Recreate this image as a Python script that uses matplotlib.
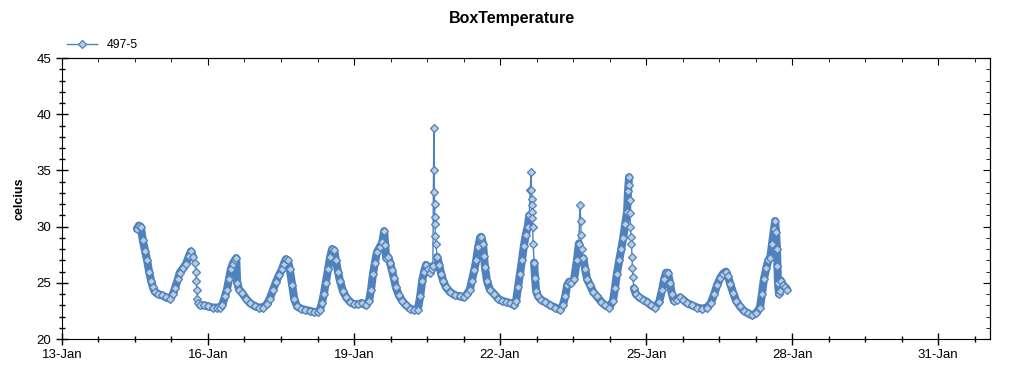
import datetime as dt
import numpy as np
import matplotlib
matplotlib.use('Agg')
import matplotlib.pyplot as plt
import matplotlib.dates as mdates
import matplotlib.ticker as ticker

plt.rcParams['font.family'] = ['Liberation Sans', 'DejaVu Sans']

# readings for sensor 497-5: day of January (fractional) and temperature
jan_day = [
    14.54, 14.58, 14.62, 14.66, 14.71, 14.75, 14.79, 14.83, 14.87, 14.91,
    14.97, 15.05, 15.14, 15.22, 15.28, 15.32, 15.38, 15.42, 15.49, 15.55,
    15.61, 15.65, 15.69, 15.73, 15.75, 15.76, 15.77, 15.78, 15.79, 15.84,
    15.92, 16.00, 16.10, 16.18, 16.25, 16.29, 16.35, 16.39, 16.43, 16.47,
    16.51, 16.55, 16.58, 16.60, 16.64, 16.70, 16.78, 16.86, 16.97, 17.05,
    17.13, 17.21, 17.27, 17.34, 17.40, 17.46, 17.52, 17.56, 17.60, 17.64,
    17.68, 17.73, 17.77, 17.83, 17.91, 17.99, 18.10, 18.18, 18.26, 18.30,
    18.34, 18.38, 18.42, 18.47, 18.51, 18.55, 18.59, 18.63, 18.67, 18.71,
    18.77, 18.84, 18.92, 19.00, 19.08, 19.16, 19.25, 19.31, 19.35, 19.39,
    19.43, 19.47, 19.53, 19.58, 19.62, 19.64, 19.66, 19.70, 19.74, 19.78,
    19.82, 19.86, 19.92, 19.99, 20.07, 20.15, 20.23, 20.31, 20.36, 20.40,
    20.44, 20.48, 20.52, 20.56, 20.60, 20.62, 20.64, 20.645, 20.65, 20.655,
    20.66, 20.665, 20.67, 20.68, 20.71, 20.75, 20.79, 20.83, 20.89, 20.97,
    21.07, 21.18, 21.26, 21.32, 21.38, 21.42, 21.47, 21.51, 21.55, 21.59,
    21.61, 21.65, 21.67, 21.69, 21.73, 21.79, 21.88, 21.96, 22.04, 22.12,
    22.21, 22.29, 22.33, 22.37, 22.41, 22.45, 22.49, 22.53, 22.57, 22.60,
    22.62, 22.64, 22.645, 22.65, 22.655, 22.66, 22.665, 22.67, 22.68, 22.70,
    22.72, 22.74, 22.78, 22.84, 22.92, 23.03, 23.13, 23.23, 23.29, 23.34,
    23.38, 23.42, 23.46, 23.52, 23.58, 23.62, 23.64, 23.66, 23.665, 23.68,
    23.71, 23.75, 23.79, 23.85, 23.91, 23.99, 24.08, 24.16, 24.24, 24.32,
    24.36, 24.40, 24.45, 24.49, 24.53, 24.57, 24.61, 24.63, 24.65, 24.655,
    24.66, 24.67, 24.68, 24.69, 24.70, 24.71, 24.72, 24.73, 24.75, 24.79,
    24.86, 24.94, 25.02, 25.10, 25.18, 25.27, 25.33, 25.37, 25.41, 25.45,
    25.49, 25.53, 25.57, 25.64, 25.70, 25.76, 25.84, 25.94, 26.05, 26.15,
    26.25, 26.33, 26.40, 26.46, 26.52, 26.58, 26.64, 26.68, 26.73, 26.79,
    26.85, 26.93, 27.01, 27.09, 27.18, 27.26, 27.34, 27.38, 27.42, 27.47,
    27.51, 27.55, 27.59, 27.63, 27.65, 27.67, 27.69, 27.70, 27.71, 27.73,
    27.75, 27.77, 27.81, 27.86, 27.90,
]
celcius = [
    29.8, 30.1, 30.0, 28.8, 27.8, 27.0, 26.0, 25.2, 24.6, 24.2,
    24.0, 23.9, 23.7, 23.6, 24.0, 24.5, 25.3, 25.9, 26.3, 26.7,
    27.4, 27.8, 27.3, 26.8, 26.0, 25.2, 24.4, 23.6, 23.2, 23.0,
    23.0, 22.9, 22.8, 22.8, 22.8, 23.0, 23.8, 24.4, 25.3, 26.2,
    26.7, 27.0, 27.2, 25.0, 24.4, 24.1, 23.6, 23.2, 22.9, 22.8,
    22.8, 23.1, 23.6, 24.4, 25.1, 25.7, 26.2, 26.7, 27.1, 27.0,
    26.2, 24.8, 23.6, 22.9, 22.7, 22.6, 22.5, 22.4, 22.4, 22.6,
    23.2, 24.0, 25.0, 26.2, 27.3, 28.0, 27.9, 27.0, 26.0, 25.2,
    24.3, 23.7, 23.3, 23.1, 23.1, 23.2, 23.0, 23.4, 24.4, 25.8,
    26.8, 27.7, 28.2, 28.6, 29.6, 28.4, 27.2, 27.3, 26.8, 26.1,
    25.4, 24.6, 23.9, 23.4, 23.0, 22.7, 22.6, 22.6, 23.8, 25.2,
    26.0, 26.6, 26.2, 25.9, 26.2, 26.5, 38.8, 35.0, 33.1, 32.0,
    30.9, 30.2, 29.2, 28.5, 27.3, 26.6, 25.8, 25.2, 24.6, 24.2,
    23.9, 23.8, 23.7, 24.0, 24.4, 25.2, 26.1, 27.0, 28.2, 29.0,
    29.1, 28.5, 27.4, 26.4, 25.2, 24.4, 24.0, 23.6, 23.4, 23.3,
    23.2, 23.0, 23.4, 24.6, 25.8, 27.0, 28.3, 29.3, 30.0, 31.0,
    33.3, 34.9, 33.3, 32.5, 31.9, 31.3, 30.8, 30.0, 28.5, 26.8,
    25.4, 24.3, 23.8, 23.5, 23.3, 23.0, 22.8, 22.6, 23.0, 23.8,
    24.8, 25.1, 25.0, 25.3, 27.0, 28.5, 31.9, 30.5, 29.3, 28.0,
    27.2, 26.2, 25.3, 24.8, 24.2, 23.8, 23.3, 23.0, 22.8, 23.4,
    24.5, 25.8, 27.0, 28.0, 29.0, 30.2, 31.3, 33.2, 34.4, 33.7,
    32.4, 31.2, 30.0, 29.1, 28.5, 27.3, 26.3, 25.5, 24.5, 24.0,
    23.7, 23.5, 23.3, 23.0, 22.8, 23.3, 24.4, 25.3, 25.9, 25.9,
    25.0, 24.0, 23.4, 23.5, 23.7, 23.5, 23.2, 23.0, 22.8, 22.7,
    22.8, 23.2, 24.0, 24.8, 25.4, 25.8, 26.0, 25.6, 24.9, 24.1,
    23.4, 22.9, 22.5, 22.3, 22.1, 22.3, 22.8, 24.0, 25.3, 26.3,
    27.0, 27.2, 28.5, 29.8, 30.5, 29.5, 28.0, 26.5, 25.0, 24.0,
    24.3, 25.2, 24.8, 24.6, 24.4,
]
# quick jumps where the logger only caught a few samples (drawn thin)
sparse_spans = [(15.72, 15.80), (20.63, 20.70), (22.60, 22.70),
                (23.63, 23.70), (24.65, 24.745)]

start = dt.datetime(2015, 1, 1)
t = [start + dt.timedelta(days=d - 1) for d in jan_day]

fig = plt.figure(figsize=(10.24, 3.75), dpi=100)
ax = fig.add_axes([0.0605, 0.096, 0.9065, 0.749])
fig.suptitle("BoxTemperature", fontsize=11.5, fontweight='bold', y=0.97)

# dense logging makes the markers merge into a solid band
band = np.array(celcius, dtype=float)
days = np.array(jan_day)
for lo, hi in sparse_spans:
    band[(days > lo) & (days < hi)] = np.nan
ax.plot(t, band, color='#4F81BD', lw=5.8, solid_capstyle='round',
        solid_joinstyle='round', zorder=2)
ax.plot(t, celcius, color='#4F81BD', lw=1, marker='D', ms=4.4,
        mfc='#B9CDE0', mec='#4F81BD', mew=0.9, label='497-5', zorder=3)

x0 = mdates.date2num(dt.datetime(2015, 1, 13))
ax.set_xlim(x0, x0 + 19.07)
ax.set_ylim(20, 45)

ax.xaxis.set_major_locator(ticker.MultipleLocator(3, offset=x0 % 3))
ax.xaxis.set_minor_locator(ticker.MultipleLocator(0.75, offset=x0 % 0.75))
ax.xaxis.set_major_formatter(mdates.DateFormatter('%d-%b'))
ax.yaxis.set_major_locator(ticker.MultipleLocator(5))
ax.yaxis.set_minor_locator(ticker.MultipleLocator(1))

ax.set_ylabel("celcius", fontsize=9, fontweight='bold', labelpad=8)
ax.tick_params(which='major', direction='inout', length=9, width=1, labelsize=9.5, pad=3)
ax.tick_params(which='minor', direction='inout', length=5, width=1)

# top and right ticks point inward only
top = ax.secondary_xaxis('top')
top.xaxis.set_major_locator(ticker.MultipleLocator(3, offset=x0 % 3))
top.xaxis.set_minor_locator(ticker.MultipleLocator(0.75, offset=x0 % 0.75))
top.tick_params(which='major', direction='in', length=5, labeltop=False)
top.tick_params(which='minor', direction='in', length=3)
right = ax.secondary_yaxis('right')
right.yaxis.set_major_locator(ticker.MultipleLocator(5))
right.yaxis.set_minor_locator(ticker.MultipleLocator(1))
right.tick_params(which='major', direction='in', length=5, labelright=False)
right.tick_params(which='minor', direction='in', length=3)

ax.legend(loc='lower left', bbox_to_anchor=(-0.003, 1.0), frameon=False,
          fontsize=8.8, handlelength=2.5, borderaxespad=0.2)

fig.savefig('out.png', dpi=100)
